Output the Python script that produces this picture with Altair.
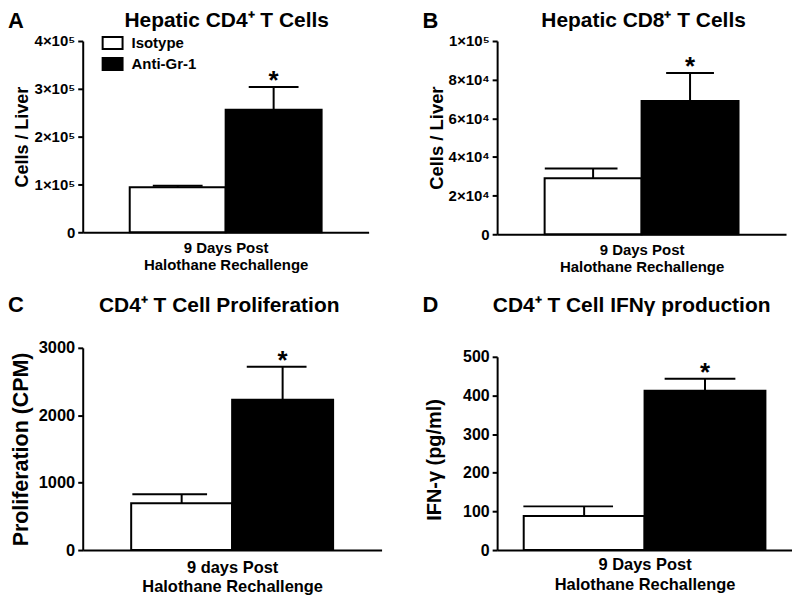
import altair as alt
import pandas as pd

# ---------------- data ----------------
groups = ["Isotype", "Anti-Gr-1"]
significance = ["", "*"]

cd4_cells_mean = [94000, 256000]
cd4_cells_sem = [3500, 48000]
cd8_cells_mean = [29000, 69000]
cd8_cells_sem = [5000, 14500]
prolif_mean = [694, 2230]
prolif_sem = [133, 488]
ifng_mean = [88, 412]
ifng_sem = [25, 31]

panel_letters = ["A", "B", "C", "D"]
panel_titles = ["Hepatic CD4⁺ T Cells", "Hepatic CD8⁺ T Cells",
                "CD4⁺ T Cell Proliferation", "CD4⁺ T Cell IFNγ production"]
y_titles = ["Cells / Liver", "Cells / Liver", "Proliferation (CPM)", "IFN-γ (pg/ml)"]
x_titles = [["9 Days Post", "Halothane Rechallenge"],
            ["9 Days Post", "Halothane Rechallenge"],
            ["9 days Post", "Halothane Rechallenge"],
            ["9 Days Post", "Halothane Rechallenge"]]
y_tick_values = [[0, 100000, 200000, 300000, 400000],
                 [0, 20000, 40000, 60000, 80000, 100000],
                 [0, 1000, 2000, 3000],
                 [0, 100, 200, 300, 400, 500]]
y_max = [400000, 100000, 3000, 500]

FONT = "Liberation Sans"

label_exprs = [
    "datum.value == 0 ? '0' : format(datum.value / 100000, 'd') + '×10⁵'",
    "datum.value == 0 ? '0' : (datum.value >= 100000 ? '1×10⁵' : format(datum.value / 10000, 'd') + '×10⁴')",
    "format(datum.value, 'd')",
    "format(datum.value, 'd')",
]


def panel(i, means, sems, s):
    df = pd.DataFrame({"group": groups, "mean": means, "sem": sems, "sig": significance})
    base = alt.Chart(df).transform_calculate(top="datum.mean + datum.sem")

    yscale_kw = dict(domain=[0, y_max[i]], nice=False, zero=True)
    if s.get("yrange"):
        yscale_kw["range"] = s["yrange"]

    axis_kw = dict(values=y_tick_values[i], tickCount=len(y_tick_values[i]),
                   title=y_titles[i], labelExpr=label_exprs[i],
                   labelFontSize=s["lfs"], titleFontSize=s["yfs"], labelOverlap=False,
                   titlePadding=s["ytp"], minExtent=s["ext"], maxExtent=s["ext"])
    if s.get("titleY") is not None:
        axis_kw["titleY"] = s["titleY"]

    x = alt.X("group:N", sort=groups,
              scale=alt.Scale(paddingInner=0, paddingOuter=s["po"]),
              axis=alt.Axis(title=x_titles[i], labels=False, ticks=False,
                            titleFontSize=s["xfs"], titleLineHeight=s["xlh"],
                            titlePadding=s["xtp"], minExtent=0, maxExtent=0))
    xs = alt.X("group:N", sort=groups, title=x_titles[i])
    y = alt.Y("mean:Q", scale=alt.Scale(**yscale_kw), axis=alt.Axis(**axis_kw))

    bars = base.mark_bar(stroke="black", strokeWidth=2).encode(
        x=x, y=y,
        fill=alt.Fill("group:N", sort=groups,
                      scale=alt.Scale(domain=groups, range=["white", "black"]),
                      legend=alt.Legend(title=None, orient="none",
                                        legendX=s["lx"], legendY=s["ly"],
                                        symbolType=s["sym"],
                                        symbolSize=400, symbolStrokeColor="black",
                                        symbolStrokeWidth=2, symbolOpacity=1,
                                        labelFont=FONT, labelFontSize=s["legfs"],
                                        labelFontWeight="bold", labelColor="black",
                                        labelOffset=8, rowPadding=s["rp"], padding=0)))
    err = base.mark_rule(color="black", strokeWidth=2).encode(
        x=xs, y=alt.Y("mean:Q", title=y_titles[i]), y2="top:Q")
    cap_iso = base.transform_filter(alt.datum.group == groups[0]).mark_tick(
        color="black", thickness=2, size=s["cap"][0], xOffset=s["cap"][1], opacity=1
    ).encode(x=xs, y=alt.Y("top:Q", title=y_titles[i]))
    cap_anti = base.transform_filter(alt.datum.group == groups[1]).mark_tick(
        color="black", thickness=2, size=s["cap"][2], xOffset=s["cap"][3], opacity=1
    ).encode(x=xs, y=alt.Y("top:Q", title=y_titles[i]))
    star = base.mark_text(font=FONT, fontSize=26, fontWeight="bold",
                          baseline="alphabetic", dy=2, color="black").encode(
        x=xs, y=alt.Y("top:Q", title=y_titles[i]), text="sig:N")
    letter = alt.Chart(pd.DataFrame({"letter": [panel_letters[i]]})).mark_text(
        font=FONT, fontSize=22, fontWeight="bold", align="left",
        baseline="alphabetic", color="black").encode(
        text="letter:N", x=alt.value(s["letx"]), y=alt.value(s["lety"]))
    title = alt.Chart(pd.DataFrame({"title": [panel_titles[i]]})).mark_text(
        font=FONT, fontSize=21, fontWeight="bold", align="center",
        baseline="alphabetic", color="black").encode(
        text="title:N", x=alt.value(s["w"] / 2 + s["tdx"]), y=alt.value(-s["toff"]))

    return alt.layer(bars, err, cap_iso, cap_anti, star, letter, title).properties(
        width=s["w"], height=s["h"])


SYM_A = "M-1,-0.6H1V0.6H-1Z"
SYM_C = "M-1,-0.68H1V0.68H-1Z"

styles = [
    dict(w=287, h=192, po=0.49, lfs=15, yfs=18, ytp=1, ext=50, xfs=15, xlh=17, xtp=8,
         lx=19, ly=-9, legfs=15, rp=0, sym=SYM_A, cap=(50, 0, 50, 0), letx=-75,
         lety=-13.5, toff=14, tdx=1),
    dict(w=290, h=194, po=0.49, lfs=15, yfs=18.5, ytp=1, ext=50, xfs=15, xlh=17, xtp=8,
         lx=21, ly=-7, legfs=15, rp=0, sym=SYM_A, cap=(73, -12, 48, 0), letx=-75,
         lety=-13.5, toff=14, tdx=2),
    dict(w=300, h=203, po=0.48, lfs=16.5, yfs=21.5, ytp=0, ext=50, xfs=16.5, xlh=19, xtp=10,
         lx=14, ly=-3, legfs=17, rp=2, sym=SYM_C, cap=(75, -12, 60, -6), letx=-75,
         lety=-36, toff=36, tdx=-13),
    dict(w=296, h=203, po=0.22, lfs=16, yfs=20, ytp=3, ext=50, xfs=16.5, xlh=20, xtp=7,
         lx=24, ly=0, legfs=17, rp=1, sym=SYM_C, cap=(90, -16, 71, -5), letx=-75,
         lety=-36, toff=36, tdx=-13, yrange=[203, 9], titleY=112),
]

pA = panel(0, cd4_cells_mean, cd4_cells_sem, styles[0])
pB = panel(1, cd8_cells_mean, cd8_cells_sem, styles[1])
pC = panel(2, prolif_mean, prolif_sem, styles[2])
pD = panel(3, ifng_mean, ifng_sem, styles[3])

chart = alt.concat(pA, pB, pC, pD, columns=2,
                   spacing={"row": 114, "column": 116}, bounds="flush").properties(
    padding=0
).configure_view(stroke=None).configure_axis(
    labelFont=FONT, labelFontWeight="bold", labelColor="black",
    titleFont=FONT, titleFontWeight="bold", titleColor="black",
    domainColor="black", domainWidth=2, tickColor="black", tickWidth=2,
    tickSize=5, labelPadding=3, grid=False
)

chart.save("out.html", embed_options={"renderer": "svg", "actions": False})
